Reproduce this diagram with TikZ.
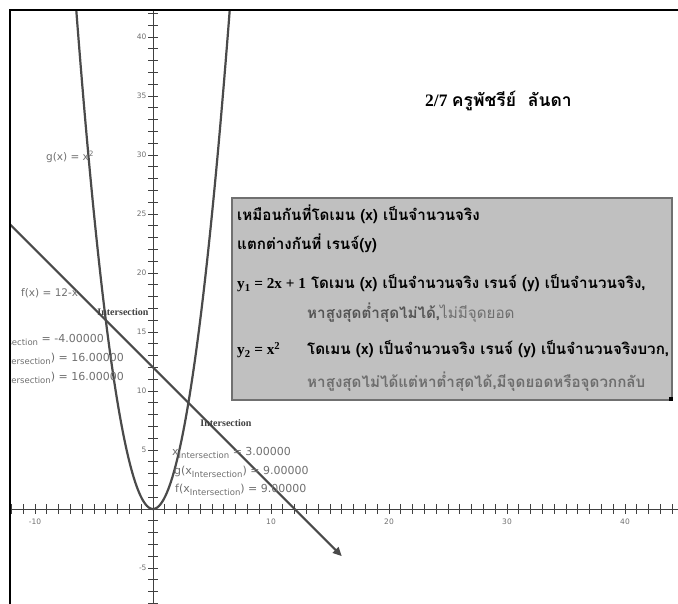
\documentclass[tikz,border=0pt]{standalone}
\usepackage{fontspec}
\setmainfont{Liberation Serif}
\newfontfamily\thai[Script=Thai]{Loma}
\newfontfamily\lbl{DejaVu Sans}
\usetikzlibrary{arrows.meta}
\definecolor{curvecol}{HTML}{4A4A4A}
\definecolor{axiscol}{HTML}{404040}
\definecolor{labcol}{HTML}{707070}
\definecolor{boxfill}{HTML}{C0C0C0}
\definecolor{boxline}{HTML}{707070}
\definecolor{midgray}{HTML}{555555}
\definecolor{lightgray2}{HTML}{6E6E6E}
\newcommand{\isub}{\raisebox{-0.5ex}{\fontsize{8.5}{9.5}\selectfont Intersection}}
\tikzset{
  curvestyle/.style={draw=curvecol, line width=2.2pt},
  axisline/.style={draw=axiscol, line width=0.9pt},
  ticklab/.style={font=\lbl\fontsize{7.5}{9}\selectfont, text=labcol, inner sep=1pt},
  lab/.style={font=\lbl\fontsize{11}{13}\selectfont, text=labcol, inner sep=0pt},
  funlab/.style={font=\lbl\fontsize{10.5}{12}\selectfont, text=labcol, inner sep=0pt, anchor=west},
  isect/.style={font=\bfseries\fontsize{10}{12}\selectfont, text=black!75, inner sep=0pt},
  boxtxt/.style={font=\thai\bfseries\fontsize{15.2}{18}\selectfont, anchor=base west, inner sep=0pt},
}
\begin{document}
\begin{tikzpicture}[x=1pt,y=-1pt]
\useasboundingbox (0,0) rectangle (678,604);
\fill[white] (0,0) rectangle (678,604);
\begin{scope}
\clip (10,10) rectangle (678,604);
\begin{scope}[shift={(153pt,-509pt)},x=11.8pt,y=11.8pt]
  % axes
  \draw[axisline] (-13,0) -- (45,0);
  \draw[axisline] (0,-9) -- (0,43);
  \foreach \t in {-12,...,44} \draw[axisline] (\t,-0.42) -- (\t,0.42);
  \foreach \t in {-8,...,42} \draw[axisline] (-0.42,\t) -- (0.42,\t);
  \foreach \t in {-5,5,10,15,20,25,30,35,40} \node[ticklab, anchor=east] (ylab\t) at (-0.45,\t) {\t};
  \foreach \t in {-10,10,20,30,40} \node[ticklab, anchor=north] (xlab\t) at (\t,-0.75) {\t};
  % curves
  \draw[curvestyle] plot[domain=-6.7:6.7, samples=120] (\x,{\x*\x});
  \coordinate (fstart) at (-14,26);
  \coordinate (fend) at (16,-4);
  \draw[curvestyle, -{Triangle[length=9pt,width=8pt]}] (fstart) -- (fend);
\end{scope}
% function labels
\node[funlab] (glab) at (46,157) {g(x) = x\textsuperscript{2}};
\node[funlab] (flab) at (21,293) {f(x) = 12-x};
% left intersection
\node[isect] (int1) at (123,312) {Intersection};
\node[lab, anchor=east] (i1x) at (104,340) {x\isub\ = -4.00000};
\node[lab, anchor=east] (i1g) at (124,359) {g(x\isub) = 16.00000};
\node[lab, anchor=east] (i1f) at (124,378) {f(x\isub) = 16.00000};
% right intersection
\node[isect] (int2) at (226,423) {Intersection};
\node[lab, anchor=west] (i2x) at (172,453) {x\isub\ = 3.00000};
\node[lab, anchor=west] (i2g) at (174,472) {g(x\isub) = 9.00000};
\node[lab, anchor=west] (i2f) at (175,490) {f(x\isub) = 9.00000};
\end{scope}
% frame
\draw[black, line width=1.5pt] (10,604) -- (10,10) -- (678,10);
% title
\node[anchor=base west, inner sep=0pt, font=\fontsize{17.5}{20}\selectfont] (title) at (425,107)
  {\bfseries 2/7 {\thai\bfseries ครูพัชรีย์~~ลันดา}};
% text box
\draw[fill=boxfill, draw=boxline, line width=1.5pt] (232,198) rectangle (672,400);
\fill[black] (669,397) rectangle (673,401);
\node[boxtxt] (l1) at (237,221) {เหมือนกันที่โดเมน (x) เป็นจำนวนจริง};
\node[boxtxt] (l2) at (237,250) {แตกต่างกันที่ เรนจ์(y)};
\node[boxtxt] (l3) at (237,289) {{\rmfamily\bfseries y\textsubscript{1} = 2x + 1} โดเมน (x) เป็นจำนวนจริง เรนจ์ (y) เป็นจำนวนจริง,};
\node[boxtxt, text=midgray] (l4) at (307,319) {หาสูงสุดต่ำสุดไม่ได้,{\mdseries\color{lightgray2}ไม่มีจุดยอด}};
\node[boxtxt] (l5a) at (237,355) {\rmfamily\bfseries y\textsubscript{2} = x\textsuperscript{2}};
\node[boxtxt] (l5b) at (307,355) {โดเมน (x) เป็นจำนวนจริง เรนจ์ (y) เป็นจำนวนจริงบวก,};
\node[boxtxt, text=lightgray2] (l6) at (307,388) {หาสูงสุดไม่ได้แต่หาต่ำสุดได้,มีจุดยอดหรือจุดวกกลับ};
\end{tikzpicture}
\end{document}
